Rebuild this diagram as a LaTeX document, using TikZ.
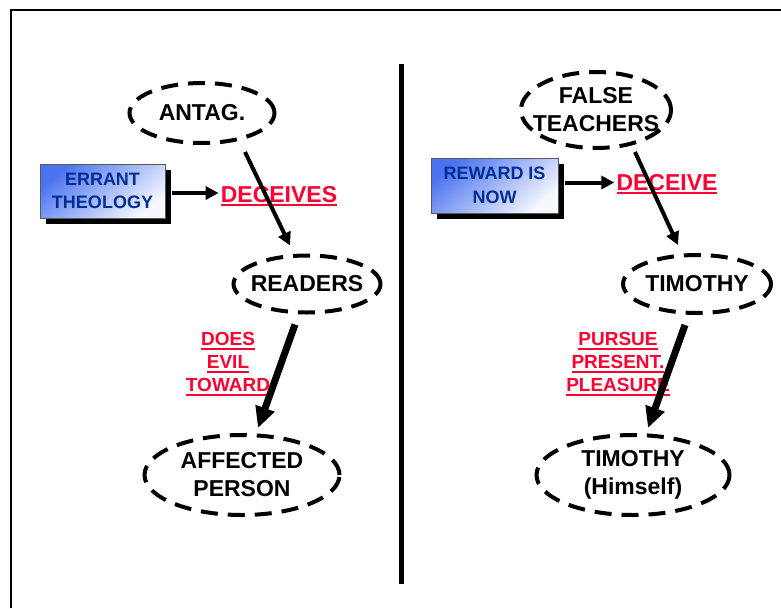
\documentclass[tikz,border=0pt]{standalone}
\usepackage{fontspec}
\setmainfont{Liberation Sans}
\usetikzlibrary{shapes.geometric,arrows.meta,shadows}
\definecolor{txtblue}{RGB}{0,45,150}
\definecolor{boxblue}{RGB}{75,115,240}
\definecolor{lblred}{RGB}{255,0,51}
\newcommand\ulred[1]{\leavevmode\setbox0\hbox{#1}\rlap{\rule[-4.2pt]{\wd0}{1.8pt}}\box0}
\begin{document}
\begin{tikzpicture}[x=1pt,y=-1pt,
  oval/.style={ellipse, draw, line width=4pt, dash pattern=on 17pt off 10pt,
    inner sep=-14pt, align=center, font=\fontsize{23}{28}\selectfont\bfseries},
  srcbox/.style={rectangle, draw=black!65, line width=0.8pt,
    top color=boxblue, bottom color=white!95!boxblue, shading angle=40,
    drop shadow={shadow xshift=6pt, shadow yshift=-6pt, opacity=1, fill=black},
    align=center, font=\fontsize{18}{23.5}\selectfont\bfseries, text=txtblue,
    inner sep=0pt},
  verb/.style={text=lblred, font=\fontsize{23}{28}\selectfont\bfseries, inner sep=0pt, anchor=base},
  lbl/.style={text=lblred, font=\fontsize{19}{23}\selectfont\bfseries, align=center, inner sep=0pt},
  slimarrow/.style={line width=4pt, -{Triangle[length=13pt,width=13pt]}},
  heavyarrow/.style={line width=7pt, -{Triangle[length=21pt,width=19pt]}}
]
\useasboundingbox (0,0) rectangle (781,608);
% frame and divider
\draw[line width=1.6pt] (11,608) -- (11,10) -- (781,10);
\draw[line width=5pt] (401,64) -- (401,584);

% ---- left side ----
\node[oval, minimum width=145pt, minimum height=60pt] (antag) at (202,113) {ANTAG.};
\node[srcbox, minimum width=125pt, minimum height=54pt] (errant) at (102.5,191) {ERRANT\\THEOLOGY};
\node[verb] (deceives) at (279,202) {\ulred{DECEIVES}};
\node[oval, minimum width=147pt, minimum height=57pt] (readers) at (307,284) {READERS};
\node[lbl] (doesevil) at (228,364) {\ulred{DOES}\\\ulred{EVIL}\\\ulred{TOWARD}};
\node[oval, minimum width=195pt, minimum height=80pt] (affected) at (242,475) {AFFECTED\\PERSON};

\draw[slimarrow] ([xshift=7pt,yshift=-2pt]errant.east) -- ([xshift=-2pt,yshift=-2pt]errant.east -| deceives.west);
\draw[slimarrow] ([xshift=43pt,yshift=-7pt]antag.south) -- ([xshift=-17pt,yshift=8pt]readers.north);
\draw[heavyarrow] ([xshift=-12pt,yshift=-10pt]readers.south) -- ([xshift=16pt,yshift=5pt]affected.north);

% ---- right side ----
\node[oval, minimum width=150pt, minimum height=76pt] (false) at (596,110) {FALSE\\TEACHERS};
\node[srcbox, minimum width=127pt, minimum height=55pt] (reward) at (494.5,185.5) {REWARD IS\\NOW};
\node[verb] (deceive) at (667,190) {\ulred{DECEIVE}};
\node[oval, minimum width=148pt, minimum height=58pt] (timothy) at (697,284) {TIMOTHY};
\node[lbl] (pursue) at (618,364) {\ulred{PURSUE}\\\ulred{PRESENT.}\\\ulred{PLEASURE}};
\node[oval, minimum width=193pt, minimum height=80pt] (himself) at (633,475) {TIMOTHY\\(Himself)};

\draw[slimarrow] ([xshift=7pt,yshift=3pt]reward.east) -- ([xshift=-2pt,yshift=3pt]reward.east -| deceive.west);
\draw[slimarrow] ([xshift=39pt,yshift=-2pt]false.south) -- ([xshift=-19pt,yshift=8pt]timothy.north);
\draw[heavyarrow] ([xshift=-12pt,yshift=-10pt]timothy.south) -- ([xshift=15pt,yshift=5pt]himself.north);
\end{tikzpicture}
\end{document}
